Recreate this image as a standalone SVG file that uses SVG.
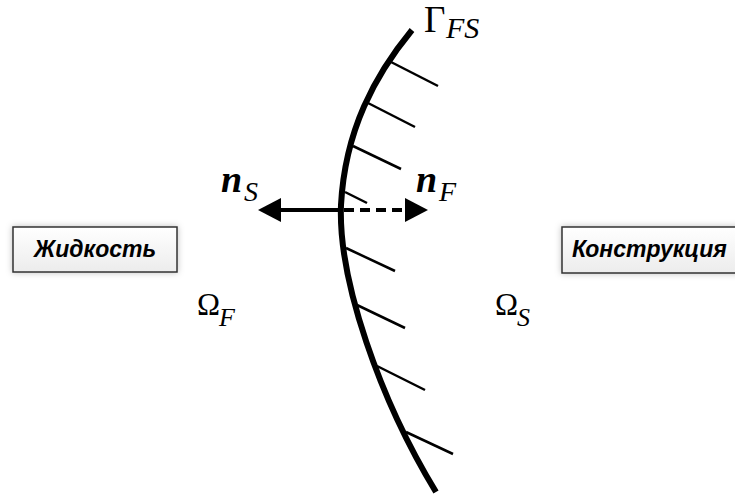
<svg xmlns="http://www.w3.org/2000/svg" width="735" height="495" viewBox="0 0 735 495">
<style>
.hatch{stroke:#000;stroke-width:2.5;fill:none}
.box{fill:url(#bg);stroke:#333;stroke-width:1.5;filter:url(#sh)}
.lbl{font-family:"Liberation Sans",Arial,sans-serif;font-weight:bold;font-style:italic;font-size:23px;fill:#000}
.m{font-family:"Liberation Serif","Times New Roman",serif;fill:#000}
.it{font-style:italic}
.bi{font-style:italic;font-weight:bold}
</style>
<defs>
<linearGradient id="bg" x1="0" y1="0" x2="0" y2="1">
<stop offset="0" stop-color="#ffffff"/>
<stop offset="1" stop-color="#ececec"/>
</linearGradient>
<filter id="sh" x="-20%" y="-40%" width="140%" height="180%">
<feDropShadow dx="0" dy="0" stdDeviation="3" flood-color="#000" flood-opacity="0.25"/>
</filter>
</defs>
<g id="interface">
<path d="M412,30 C375,75 345,130 341,205 C338,280 380,400 436,492" fill="none" stroke="#000" stroke-width="6"/>
<line class="hatch" x1="391" y1="62" x2="438" y2="86"/>
<line class="hatch" x1="368" y1="103" x2="415" y2="127"/>
<line class="hatch" x1="353" y1="146" x2="401" y2="169"/>
<line class="hatch" x1="345" y1="192" x2="367" y2="203"/>
<line class="hatch" x1="346" y1="248" x2="395" y2="271"/>
<line class="hatch" x1="357" y1="305" x2="405" y2="328"/>
<line class="hatch" x1="377" y1="366" x2="425" y2="390"/>
<line class="hatch" x1="406" y1="432" x2="453" y2="454"/>
</g>
<g id="connectors">
<line x1="341" y1="210" x2="278" y2="210" stroke="#000" stroke-width="4"/>
<polygon points="258,210 281,198 281,222" fill="#000"/>
<line x1="344" y1="210" x2="406" y2="210" stroke="#000" stroke-width="4" stroke-dasharray="10 6"/>
<polygon points="428,210 405,198 405,222" fill="#000"/>
</g>
<g id="label-gamma">
<text class="m" x="424" y="32" font-size="37">Γ<tspan class="it" font-size="30" x="446" y="38">FS</tspan></text>
</g>
<g id="label-nS">
<text class="m" x="221" y="192" font-size="38"><tspan class="bi">n</tspan><tspan class="it" font-size="28" x="244" y="201">S</tspan></text>
</g>
<g id="label-nF">
<text class="m" x="416" y="192" font-size="38"><tspan class="bi">n</tspan><tspan class="it" font-size="28" x="439" y="201">F</tspan></text>
</g>
<g id="label-omegaF">
<text class="m" x="197" y="315" font-size="31">Ω<tspan class="it" font-size="26" x="219" y="326">F</tspan></text>
</g>
<g id="label-omegaS">
<text class="m" x="495" y="315" font-size="31">Ω<tspan class="it" font-size="26" x="517" y="326">S</tspan></text>
</g>
<g id="fluid">
<rect class="box" x="13" y="227" width="164" height="45"/>
<text class="lbl" x="95" y="257" text-anchor="middle">Жидкость</text>
</g>
<g id="structure">
<rect class="box" x="562" y="227" width="200" height="46"/>
<text class="lbl" x="572" y="257" font-size="24">Конструкция</text>
</g>
</svg>
